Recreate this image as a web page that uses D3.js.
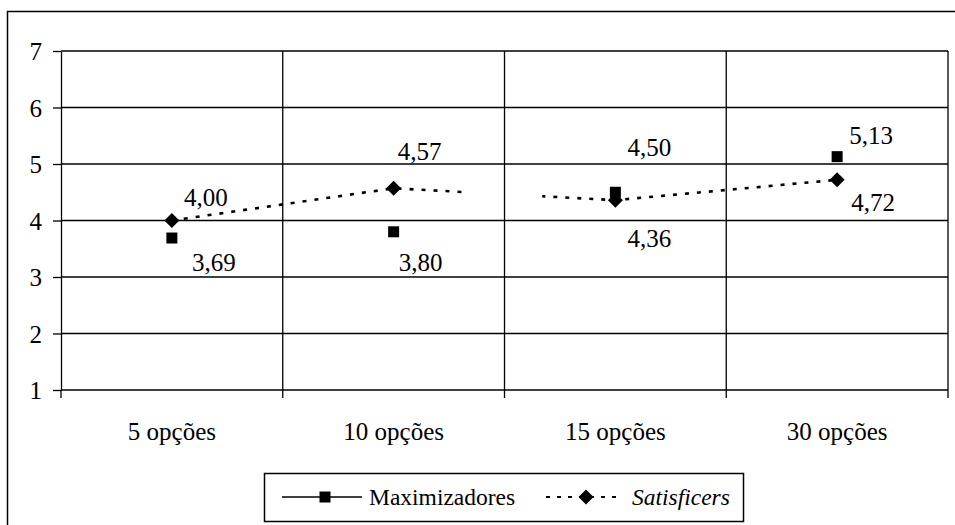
<!DOCTYPE html>
<html>
<head>
<meta charset="utf-8">
<script src="https://cdn.jsdelivr.net/npm/d3@7"></script>
<style>
  body { margin: 0; background: #fff; }
  svg { display: block; }
  svg text { font-family: "Liberation Serif", "Times New Roman", Times, "DejaVu Serif", serif; }
</style>
</head>
<body>
<svg id="chart" width="955" height="525"></svg>
<script>
// Chart data
const categories = ["5 opções", "10 opções", "15 opções", "30 opções"];
const maximizadores = [3.69, 3.80, 4.50, 5.13];
const satisficers = [4.00, 4.57, 4.36, 4.72];
const yTicks = [1, 2, 3, 4, 5, 6, 7];
const seriesNames = ["Maximizadores", "Satisficers"];

// Hand-placed label offsets (px from each point)
const maxLabelOffsets = [[42, 24], [27, 31], [34, -45], [34, -21]];
const satLabelOffsets = [[34, -23], [26, -37], [34, 38], [36, 23]];

const SERIF = "Liberation Serif";
const fmt = v => d3.format(".2f")(v).replace(".", ",");

const svg = d3.select("#chart");
const plot = { left: 61, right: 948, top: 51, bottom: 390 };

const x = d3.scaleBand().domain(categories).range([plot.left, plot.right]);
const y = d3.scaleLinear().domain([1, 7]).range([plot.bottom, plot.top]);
const cx = c => x(c) + x.bandwidth() / 2;

// Outer frame
svg.append("rect")
  .attr("x", 7.5).attr("y", 11.5).attr("width", 1000).attr("height", 1000)
  .attr("fill", "none").attr("stroke", "#000").attr("stroke-width", 1.5);

// Horizontal gridlines
svg.append("g").selectAll("line").data(yTicks.slice(1)).join("line")
  .attr("x1", plot.left).attr("x2", plot.right)
  .attr("y1", d => y(d)).attr("y2", d => y(d))
  .attr("stroke", "#000").attr("stroke-width", 1.3);

// Vertical gridlines at category boundaries
const bounds = categories.map(c => x(c)).concat([plot.right]);
svg.append("g").selectAll("line").data(bounds.slice(1)).join("line")
  .attr("x1", d => d).attr("x2", d => d)
  .attr("y1", plot.top).attr("y2", plot.bottom)
  .attr("stroke", "#000").attr("stroke-width", 1.3);

// Y axis
const yAxis = svg.append("g")
  .attr("transform", `translate(${plot.left},0)`)
  .call(d3.axisLeft(y).tickValues(yTicks).tickFormat(d3.format("d"))
    .tickSize(8).tickPadding(11).tickSizeOuter(0))
  .attr("font-family", SERIF);
yAxis.select(".domain").attr("stroke", "#000").attr("stroke-width", 1.3);
yAxis.selectAll(".tick line").attr("stroke", "#000").attr("stroke-width", 1.3);
yAxis.selectAll(".tick text")
  .attr("font-family", SERIF)
  .attr("font-size", 25).attr("fill", "#000").attr("dy", "0.34em");

// X axis line and boundary ticks
svg.append("line")
  .attr("x1", plot.left).attr("x2", plot.right)
  .attr("y1", plot.bottom).attr("y2", plot.bottom)
  .attr("stroke", "#000").attr("stroke-width", 1.3);
svg.append("g").selectAll("line").data(bounds).join("line")
  .attr("x1", d => d).attr("x2", d => d)
  .attr("y1", plot.bottom).attr("y2", plot.bottom + 8)
  .attr("stroke", "#000").attr("stroke-width", 1.3);
svg.append("g").attr("font-family", SERIF).selectAll("text").data(categories).join("text")
  .attr("x", d => cx(d)).attr("y", plot.bottom + 50)
  .attr("text-anchor", "middle").attr("font-size", 25).attr("fill", "#000")
  .text(d => d);

// Satisficers dotted line (broken between the 10 and 15 option points)
const satPts = categories.map((c, i) => [cx(c), y(satisficers[i])]);
const bw = x.bandwidth();
const gapFrom = cx(categories[1]) + 0.31 * bw;
const gapTo = cx(categories[2]) - 0.33 * bw;
const defs = svg.append("defs");
const mask = defs.append("mask").attr("id", "satGap");
mask.append("rect").attr("x", 0).attr("y", 0).attr("width", 955).attr("height", 525).attr("fill", "#fff");
mask.append("rect").attr("x", gapFrom).attr("y", plot.top).attr("width", gapTo - gapFrom)
  .attr("height", plot.bottom - plot.top).attr("fill", "#000");

svg.append("path")
  .attr("d", d3.line()(satPts))
  .attr("fill", "none").attr("stroke", "#000").attr("stroke-width", 2.6)
  .attr("stroke-dasharray", "4,8").attr("mask", "url(#satGap)");

// Markers
const square = d3.symbol().type(d3.symbolSquare).size(121);
const diamond = (px, py, r) => `M${px},${py - r}L${px + r},${py}L${px},${py + r}L${px - r},${py}Z`;

svg.append("g").selectAll("path").data(maximizadores).join("path")
  .attr("transform", (d, i) => `translate(${cx(categories[i])},${y(d)})`)
  .attr("d", square()).attr("fill", "#000");

svg.append("g").selectAll("path").data(satisficers).join("path")
  .attr("d", (d, i) => diamond(cx(categories[i]), y(d), 7.5)).attr("fill", "#000");

// Value labels
function addLabels(values, offsets) {
  svg.append("g").attr("font-family", SERIF).selectAll("text").data(values).join("text")
    .attr("x", (d, i) => cx(categories[i]) + offsets[i][0])
    .attr("y", (d, i) => y(d) + offsets[i][1])
    .attr("dy", "0.34em")
    .attr("text-anchor", "middle").attr("font-size", 25).attr("fill", "#000")
    .text(d => fmt(d));
}
addLabels(maximizadores, maxLabelOffsets);
addLabels(satisficers, satLabelOffsets);

// Legend
const lg = svg.append("g").attr("transform", "translate(264,473)").attr("font-family", SERIF);
lg.append("rect").attr("x", 0.5).attr("y", 0.5).attr("width", 479).attr("height", 48)
  .attr("fill", "#fff").attr("stroke", "#000").attr("stroke-width", 1.5);
const ly = 24;
lg.append("line").attr("x1", 18).attr("x2", 98).attr("y1", ly).attr("y2", ly)
  .attr("stroke", "#000").attr("stroke-width", 1.5);
lg.append("path").attr("transform", `translate(61,${ly})`).attr("d", square()).attr("fill", "#000");
lg.append("text").attr("x", 105).attr("y", ly).attr("dy", "0.34em")
  .attr("font-size", 23.5).attr("fill", "#000").text(seriesNames[0]);
lg.append("line").attr("x1", 282).attr("x2", 356).attr("y1", ly).attr("y2", ly)
  .attr("stroke", "#000").attr("stroke-width", 2).attr("stroke-dasharray", "4,7");
lg.append("path").attr("d", diamond(322, ly, 7.5)).attr("fill", "#000");
lg.append("text").attr("x", 368).attr("y", ly).attr("dy", "0.34em")
  .attr("font-size", 23.5).attr("font-style", "italic").attr("fill", "#000").text(seriesNames[1]);
</script>
</body>
</html>
